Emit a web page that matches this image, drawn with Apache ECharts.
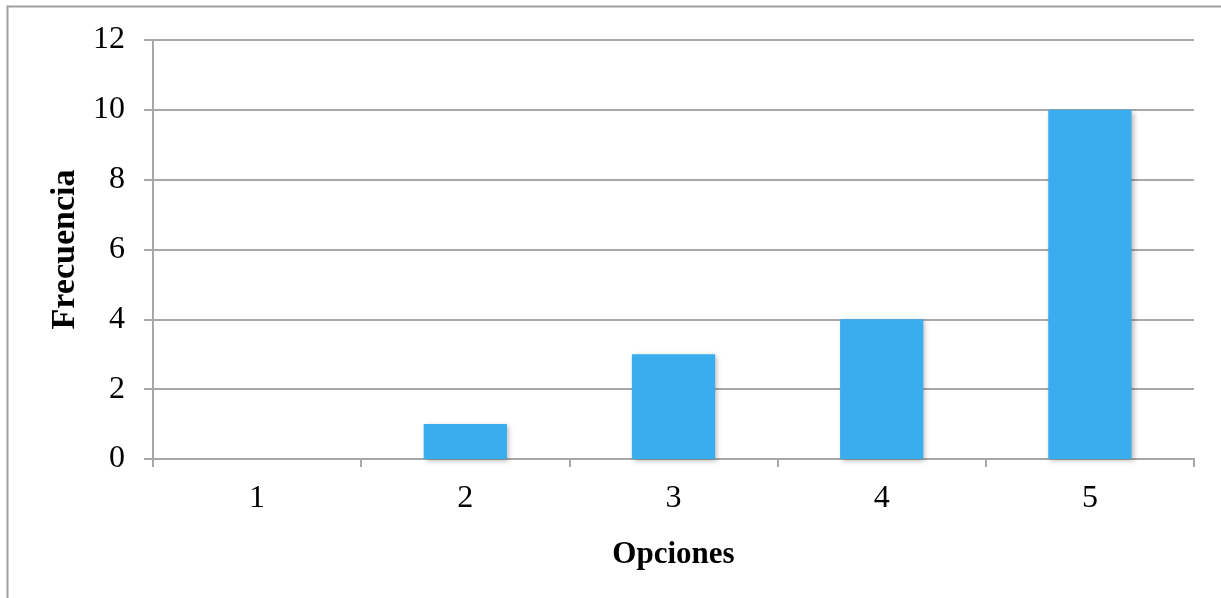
<!DOCTYPE html>
<html>
<head>
<meta charset="utf-8">
<script src="https://cdn.jsdelivr.net/npm/echarts@6/dist/echarts.min.js"></script>
<style>
  html, body { margin: 0; padding: 0; background: #fff; }
  #chart { width: 1221px; height: 598px; }
</style>
</head>
<body>
<div id="chart"></div>
<script>
// Frequency of each answer option
const opciones = ['1', '2', '3', '4', '5'];
const frecuencia = [0, 1, 3, 4, 10];
const yTicks = { min: 0, max: 12, interval: 2 };

const serif = '"Liberation Serif", "DejaVu Serif", serif';
const gridGray = '#a8a8a8';

const chart = echarts.init(document.getElementById('chart'), null, { renderer: 'canvas' });

chart.setOption({
  animation: false,
  backgroundColor: '#fff',
  graphic: [{
    type: 'rect',
    shape: { x: 7.5, y: 6.5, width: 1240, height: 620 },
    style: { fill: 'none', stroke: '#a0a0a0', lineWidth: 2 },
    silent: true
  }],
  grid: { left: 153, right: 27, top: 40, bottom: 139, containLabel: false },
  xAxis: {
    type: 'category',
    data: opciones,
    boundaryGap: true,
    name: 'Opciones',
    nameLocation: 'middle',
    nameGap: 80,
    nameTextStyle: { fontFamily: serif, fontSize: 31, fontWeight: 'bold', color: '#000' },
    axisLine: { show: true, lineStyle: { color: gridGray, width: 2 } },
    axisTick: { show: true, length: 8, lineStyle: { color: gridGray, width: 2 } },
    axisLabel: { fontFamily: serif, fontSize: 32, color: '#000', margin: 24 },
    splitLine: { show: false }
  },
  yAxis: {
    type: 'value',
    min: yTicks.min,
    max: yTicks.max,
    interval: yTicks.interval,
    name: 'Frecuencia',
    nameLocation: 'middle',
    nameGap: 69,
    nameRotate: 90,
    nameTextStyle: { fontFamily: serif, fontSize: 34, fontWeight: 'bold', color: '#000' },
    axisLine: { show: true, lineStyle: { color: gridGray, width: 2 } },
    axisTick: { show: true, length: 9, lineStyle: { color: gridGray, width: 2 } },
    axisLabel: { fontFamily: serif, fontSize: 32, color: '#000', margin: 28 },
    splitLine: { show: true, lineStyle: { color: gridGray, width: 2 } }
  },
  series: [{
    type: 'bar',
    data: frecuencia,
    barWidth: '40%',
    itemStyle: {
      color: '#3aadee',
      shadowColor: 'rgba(0,0,0,0.28)',
      shadowBlur: 5,
      shadowOffsetX: 2,
      shadowOffsetY: 2
    }
  }]
});
</script>
</body>
</html>
